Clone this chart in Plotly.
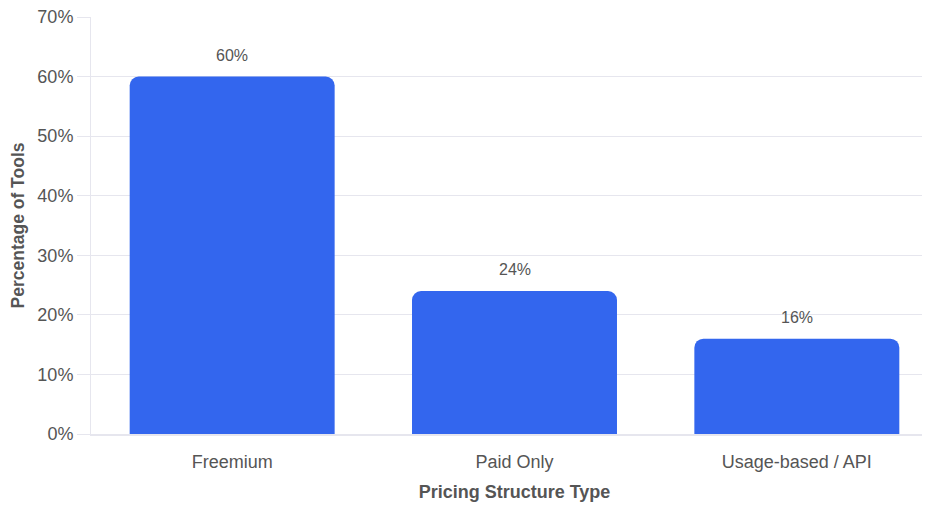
import plotly.graph_objects as go

categories = ["Freemium", "Paid Only", "Usage-based / API"]
shares = [60, 24, 16]
labels = ["60%", "24%", "16%"]

BAR_COLOR = "#3366ee"
TEXT_COLOR = "#555555"
GRID_COLOR = "#e6e6ee"
FONT = "Liberation Sans, Arial, sans-serif"

fig = go.Figure()
fig.add_trace(
    go.Bar(
        x=categories,
        y=shares,
        marker=dict(color=BAR_COLOR, cornerradius=9, line=dict(width=0)),
        hoverinfo="skip",
    )
)

# value labels floating above each bar
for cat, val, lab in zip(categories, shares, labels):
    fig.add_annotation(
        x=cat, y=val, text=lab, showarrow=False,
        yanchor="bottom", yshift=11,
        font=dict(family=FONT, size=16, color=TEXT_COLOR),
    )

# page body adds an 8px margin, so the figure is sized to fit inside it
fig.update_layout(
    width=930,
    height=495,
    margin=dict(l=83, r=0, t=9, b=69),
    plot_bgcolor="white",
    paper_bgcolor="white",
    bargap=0.274,
    showlegend=False,
    font=dict(family=FONT, color=TEXT_COLOR),
)
fig.update_xaxes(
    automargin=False,
    showgrid=False,
    showline=True, linecolor=GRID_COLOR, linewidth=2,
    ticks="outside", ticklen=10, tickcolor="rgba(0,0,0,0)",
    tickfont=dict(size=18, color=TEXT_COLOR),
    title=dict(text="<b>Pricing Structure Type</b>", font=dict(size=18, color=TEXT_COLOR), standoff=15),
)
fig.update_yaxes(
    automargin=False,
    range=[0, 70], dtick=10, ticksuffix="%",
    showgrid=True, gridcolor=GRID_COLOR, gridwidth=1,
    zeroline=False,
    showline=True, linecolor=GRID_COLOR, linewidth=1,
    ticks="outside", ticklen=13, tickcolor=GRID_COLOR,
    ticklabeloverflow="allow",
    tickfont=dict(size=18, color=TEXT_COLOR),
    title=dict(text="<b>Percentage of Tools</b>", font=dict(size=17.5, color=TEXT_COLOR), standoff=10),
)

fig.write_html("out.html")
